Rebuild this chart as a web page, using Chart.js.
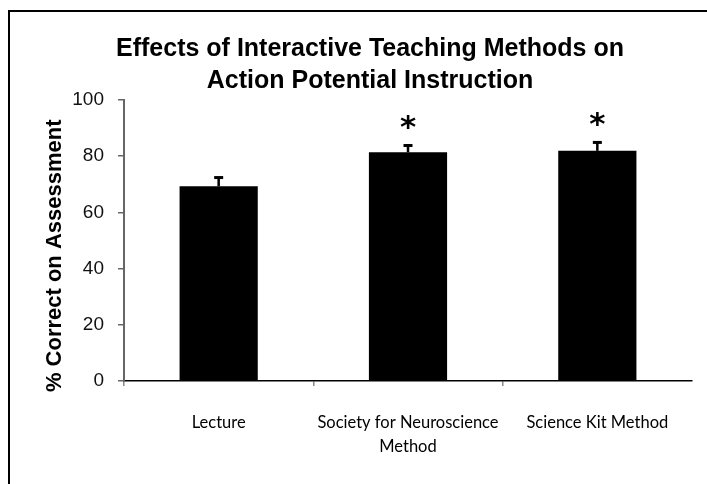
<!DOCTYPE html>
<html lang="en">
<head>
    <meta charset="UTF-8">
    <script src="https://cdn.jsdelivr.net/npm/chart.js"></script>
    <title>Effects of Interactive Teaching Methods</title>
    <style>
        body {
            margin: 0;
            background-color: #fff;
            overflow: hidden;
        }
        .wrap {
            position: absolute;
            left: 0;
            top: 0;
            width: 707px;
            height: 484px;
        }
        .frame {
            position: absolute;
            left: 8px;
            top: 10px;
            width: 760px;
            height: 540px;
            border: 2px solid #000;
            pointer-events: none;
        }
    </style>
</head>
<body>

<div class="wrap">
    <canvas id="chart" width="707" height="484"></canvas>
    <div class="frame"></div>
</div>

<script>
    // data
    const categories = ['Lecture', ['Society for Neuroscience', 'Method'], 'Science Kit Method'];
    const scores = [69.3, 81.4, 81.9];      // % correct
    const errors = [3.1, 2.4, 3.0];         // upper error bar length
    const sigMarks = ['', '*', '*'];        // significance markers

    // error bars + asterisks drawn after the bars
    const errorBarPlugin = {
        id: 'errorBars',
        afterDatasetsDraw(chart) {
            const ctx = chart.ctx;
            const x = chart.scales.x;
            const y = chart.scales.y;
            ctx.save();
            scores.forEach((v, i) => {
                const px = x.getPixelForValue(i);
                const top = y.getPixelForValue(v + errors[i]);
                const base = y.getPixelForValue(v);
                ctx.strokeStyle = '#000';
                ctx.lineWidth = 2.5;
                ctx.beginPath();
                ctx.moveTo(px, base);
                ctx.lineTo(px, top);
                ctx.stroke();
                ctx.lineWidth = 3;
                ctx.beginPath();
                ctx.moveTo(px - 4.5, top);
                ctx.lineTo(px + 4.5, top);
                ctx.stroke();

                if (sigMarks[i]) {
                    ctx.font = 'bold 31px "DejaVu Sans"';
                    ctx.fillStyle = '#000';
                    ctx.textAlign = 'center';
                    ctx.textBaseline = 'alphabetic';
                    const m = ctx.measureText(sigMarks[i]);
                    const cy = top - 23;
                    const off = (m.actualBoundingBoxAscent - m.actualBoundingBoxDescent) / 2;
                    ctx.fillText(sigMarks[i], px, cy + off);
                }
            });
            ctx.restore();
        }
    };

    var ctx = document.getElementById('chart');

    var chart = new Chart(ctx, {
        type: 'bar',
        data: {
            labels: categories,
            datasets: [{
                data: scores,
                backgroundColor: '#000',
                borderWidth: 0,
                categoryPercentage: 1.0,
                barPercentage: 0.413
            }]
        },
        plugins: [errorBarPlugin],
        options: {
            responsive: false,
            animation: false,
            devicePixelRatio: 1,
            layout: {
                padding: { left: 48, right: 15, top: 10, bottom: 0 }
            },
            scales: {
                x: {
                    grid: {
                        display: true,
                        drawOnChartArea: false,
                        drawTicks: true,
                        tickLength: 5,
                        // hide the boundary tick past the last category
                        color: c => (c.type !== 'tick') ? 'rgba(0,0,0,0)' : '#888',
                        lineWidth: 1.5
                    },
                    border: {
                        display: true,
                        color: '#000',
                        width: 1.5
                    },
                    ticks: {
                        color: '#000',
                        padding: 25,
                        maxRotation: 0,
                        autoSkip: false,
                        font: { family: 'Lato', size: 16.5, lineHeight: '24px' }
                    }
                },
                y: {
                    min: 0,
                    max: 100,
                    afterFit: s => { s.width = 76; },
                    grid: {
                        drawOnChartArea: false,
                        drawTicks: true,
                        tickLength: 6,
                        color: '#666',
                        lineWidth: 1.5
                    },
                    border: {
                        display: true,
                        color: '#666',
                        width: 2
                    },
                    ticks: {
                        stepSize: 20,
                        color: '#111',
                        padding: 14,
                        font: { family: 'Arial, "Liberation Sans"', size: 19 }
                    },
                    title: {
                        display: true,
                        text: '% Correct on Assessment\u00a0\u00a0\u00a0\u00a0\u00a0',
                        color: '#000',
                        padding: { top: -4, bottom: 0 },
                        font: { family: 'Arial, "Liberation Sans"', size: 22, weight: 'bold', lineHeight: 1 }
                    }
                }
            },
            plugins: {
                legend: { display: false },
                tooltip: { enabled: false },
                title: {
                    display: true,
                    text: ['Effects of Interactive Teaching Methods on', 'Action Potential Instruction'],
                    color: '#000',
                    padding: { top: 23, bottom: 3 },
                    font: { family: 'Arial, "Liberation Sans"', size: 25, weight: 'bold', lineHeight: '32px' }
                }
            }
        }
    });
</script>

</body>
</html>
